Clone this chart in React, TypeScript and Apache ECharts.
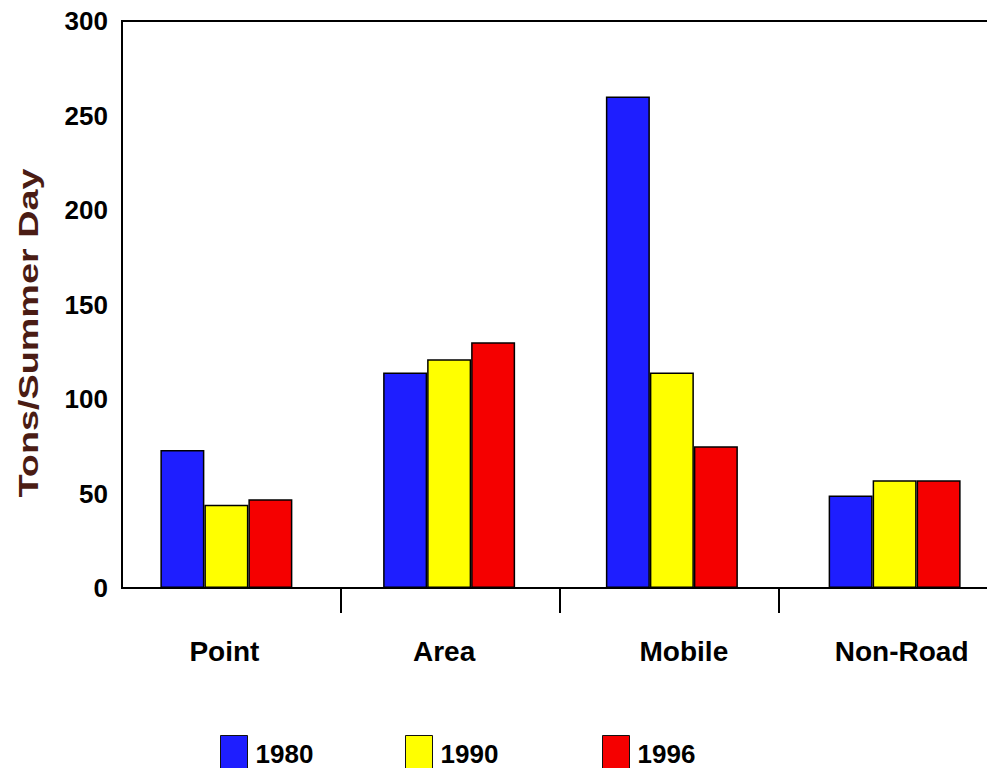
import React, { useEffect, useRef } from "react";
import * as echarts from "echarts";

const categories = ["Point", "Area", "Mobile", "Non-Road"];
const years = ["1980", "1990", "1996"];
const values1980 = [73, 114, 260, 49];
const values1990 = [44, 121, 114, 57];
const values1996 = [47, 130, 75, 57];
const yTicks = { min: 0, max: 300, interval: 50 };
const yTitle = "Tons/Summer Day";

const colors = ["#1e1eff", "#ffff00", "#f50000"];
const FONT = "Liberation Sans";

export default function App() {
  const ref = useRef<HTMLDivElement>(null);
  useEffect(() => {
    if (!ref.current) return;
    const chart = echarts.init(ref.current, undefined, { renderer: "svg" });
    const seriesData = [values1980, values1990, values1996];
    const legendLefts = [215, 400, 597];
    // horizontal nudge (px) of each category label, to match the reference layout
    const labelNudge = [-7, -6, 15, 14];
    const labelStyle = {
      fontFamily: FONT,
      fontWeight: "bold",
      color: "#000",
    };
    const catItems = categories.map((c, i) => {
      const n = labelNudge[i];
      return {
        value: c,
        textStyle: {
          padding: n < 0 ? [0, -2 * n, 0, 0] : [0, 0, 0, 2 * n],
        },
      };
    });
    chart.setOption({
      animation: false,
      backgroundColor: "#ffffff",
      grid: [
        {
          left: 122,
          top: 21,
          bottom: 180,
          width: 875,
          outerBoundsMode: "none",
          show: true,
          borderColor: "#000",
          borderWidth: 2,
          backgroundColor: "transparent",
        },
        {
          left: 115,
          top: 21,
          bottom: 180,
          width: 891,
          outerBoundsMode: "none",
          show: false,
        },
      ],
      legend: years.map((y, i) => ({
        data: [{ name: y, icon: "rect" }],
        left: legendLefts[i],
        top: 730,
        itemWidth: 27,
        itemHeight: 36,
        itemStyle: { borderColor: "#111", borderWidth: 1 },
        textStyle: { ...labelStyle, fontSize: 26, padding: [0, 0, 0, 3] },
        selectedMode: false,
      })),
      xAxis: [
        {
          type: "category",
          gridIndex: 0,
          data: catItems,
          axisLine: { show: true, lineStyle: { color: "#000", width: 2 } },
          axisTick: {
            show: true,
            length: 25,
            lineStyle: { color: "#000", width: 2 },
            interval: (i: number) => i !== 0,
          },
          axisLabel: { ...labelStyle, fontSize: 28, margin: 49 },
          z: 5,
        },
        {
          type: "category",
          gridIndex: 1,
          data: categories,
          show: false,
        },
      ],
      yAxis: [
        {
          type: "value",
          gridIndex: 0,
          min: yTicks.min,
          max: yTicks.max,
          interval: yTicks.interval,
          splitLine: { show: false },
          axisLine: { show: true, lineStyle: { color: "#000", width: 2 } },
          axisTick: { show: false },
          axisLabel: { ...labelStyle, fontSize: 26, margin: 14 },
        },
        {
          type: "value",
          gridIndex: 1,
          min: yTicks.min,
          max: yTicks.max,
          interval: yTicks.interval,
          show: false,
          splitLine: { show: false },
        },
      ],
      graphic: [
        {
          type: "text",
          x: 29,
          y: 333,
          rotation: Math.PI / 2,
          scaleX: 1.4,
          style: {
            text: yTitle,
            font: `bold 27px "${FONT}"`,
            fill: "#4a1c14",
            align: "center",
            verticalAlign: "middle",
          },
        },
      ],
      series: years.map((y, i) => ({
        name: y,
        type: "bar",
        xAxisIndex: 1,
        yAxisIndex: 1,
        data: seriesData[i],
        barWidth: 44,
        barGap: "0%",
        itemStyle: { color: colors[i], borderColor: "#000", borderWidth: 1.5 },
      })),
    });
    return () => chart.dispose();
  }, []);
  return (
    <div
      ref={ref}
      style={{ position: "fixed", left: 0, top: 0, width: 987, height: 768, overflow: "hidden" }}
    />
  );
}
